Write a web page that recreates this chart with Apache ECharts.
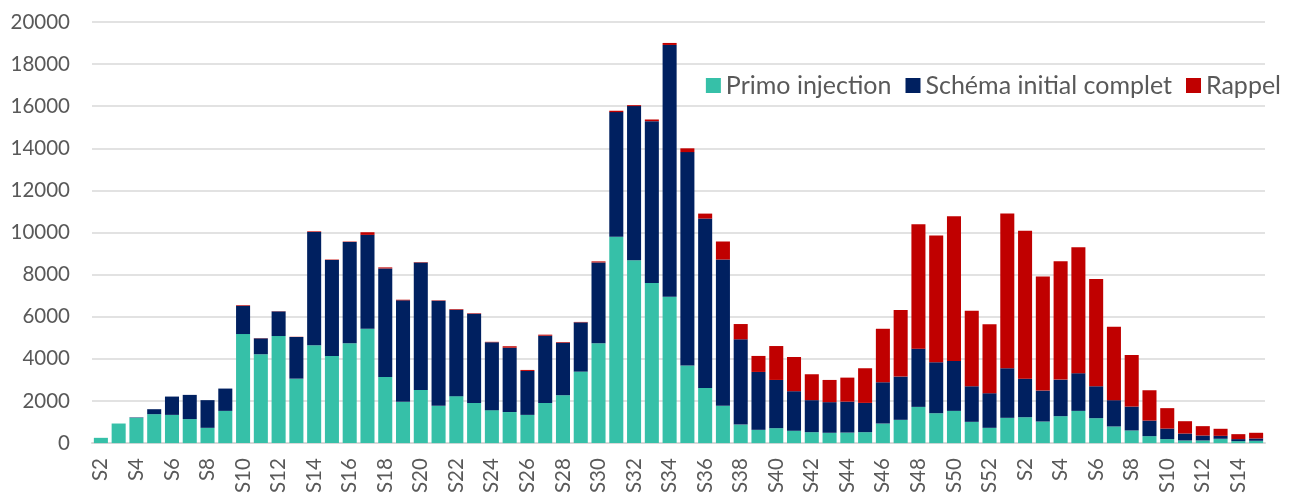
<!DOCTYPE html>
<html>
<head>
<meta charset="utf-8">
<script src="https://cdn.jsdelivr.net/npm/echarts@6/dist/echarts.min.js"></script>
<style>
  html, body { margin: 0; padding: 0; background: #fff; }
  #chart { width: 1293px; height: 496px; }
</style>
</head>
<body>
<div id="chart"></div>
<script>
// weeks: 2021 S2..S52 then 2022 S1..S15
var weeks = [
    'S2', 'S3', 'S4', 'S5', 'S6', 'S7', 'S8', 'S9', 'S10', 'S11', 'S12', 'S13', 'S14', 'S15', 'S16', 'S17',
    'S18', 'S19', 'S20', 'S21', 'S22', 'S23', 'S24', 'S25', 'S26', 'S27', 'S28', 'S29', 'S30', 'S31', 'S32',
    'S33', 'S34', 'S35', 'S36', 'S37', 'S38', 'S39', 'S40', 'S41', 'S42', 'S43', 'S44', 'S45', 'S46', 'S47',
    'S48', 'S49', 'S50', 'S51', 'S52',
    'S1', 'S2', 'S3', 'S4', 'S5', 'S6', 'S7', 'S8', 'S9', 'S10', 'S11', 'S12', 'S13', 'S14', 'S15'
];

var primo = [
    250, 930, 1200, 1375, 1340, 1140, 725, 1530, 5180, 4220, 5085, 3060, 4645, 4140, 4740, 5430,
    3140, 1960, 2525, 1770, 2230, 1910, 1565, 1475, 1340, 1910, 2275, 3395, 4740, 9795, 8690,
    7600, 6950, 3680, 2620, 1770, 880, 630, 710, 585, 520, 490, 500, 520, 930, 1105,
    1720, 1420, 1530, 1010, 725,
    1200, 1230, 1025, 1280, 1530, 1185, 790, 600, 330, 190, 125, 125, 205, 95, 110
];

var complet = [
    0, 0, 20, 235, 870, 1150, 1315, 1060, 1340, 755, 1170, 1980, 5385, 4560, 4815, 4460,
    5155, 4820, 6055, 4990, 4105, 4235, 3225, 3055, 2087, 3190, 2495, 2340, 3840, 5925, 7315,
    7690, 11960, 10140, 8045, 6950, 4050, 2750, 2290, 1880, 1520, 1455, 1470, 1390, 1960, 2055,
    2765, 2420, 2370, 1690, 1645,
    2355, 1830, 1470, 1735, 1790, 1515, 1250, 1135, 740, 500, 330, 235, 140, 95, 110
];

var rappel = [
    0, 0, 0, 0, 0, 0, 0, 0, 30, 10, 10, 10, 30, 20, 20, 125,
    50, 30, 20, 20, 30, 25, 20, 70, 48, 50, 30, 20, 50, 65, 45,
    80, 95, 180, 235, 855, 725, 760, 1610, 1625, 1230, 1055, 1140, 1645, 2540, 3160,
    5910, 6020, 6875, 3585, 3270,
    7345, 7020, 5420, 5625, 5985, 5090, 3490, 2450, 1440, 970, 585, 445, 335, 235, 270
];

var yTicks = [0, 2000, 4000, 6000, 8000, 10000, 12000, 14000, 16000, 18000, 20000];

var chart = echarts.init(document.getElementById('chart'));

var textColor = '#595959';
var font = 'Lato, "Open Sans", sans-serif';

var option = {
    backgroundColor: '#fff',
    animation: false,
    textStyle: {fontFamily: font},
    grid: {left: 92, right: 28, top: 22, bottom: 52, containLabel: false},
    legend: {
        right: 12,
        top: 71,
        padding: [2, 0, 2, 8],
        itemWidth: 15,
        itemHeight: 15,
        itemGap: 14,
        icon: 'rect',
        backgroundColor: '#fff',
        textStyle: {fontSize: 25, color: textColor, fontFamily: font, padding: [0, 0, 0, 0]},
        data: ['Primo injection', 'Schéma initial complet', 'Rappel']
    },
    xAxis: {
        type: 'category',
        data: weeks,
        axisLine: {lineStyle: {color: '#d9d9d9', width: 2}},
        axisTick: {show: false},
        axisLabel: {
            interval: 1,
            rotate: 90,
            color: textColor,
            fontSize: 20.5,
            fontFamily: font,
            margin: 15
        }
    },
    yAxis: {
        type: 'value',
        min: yTicks[0],
        max: yTicks[yTicks.length - 1],
        interval: 2000,
        axisLine: {show: false},
        axisTick: {show: false},
        axisLabel: {
            color: textColor,
            fontSize: 20.5,
            fontFamily: font,
            margin: 22,
            formatter: function (v) { return String(v); }
        },
        splitLine: {lineStyle: {color: '#d9d9d9', width: 1.5}}
    },
    series: [
        {
            name: 'Primo injection',
            type: 'bar',
            stack: 'total',
            barCategoryGap: '21%',
            itemStyle: {color: '#36c0a8'},
            data: primo
        },
        {
            name: 'Schéma initial complet',
            type: 'bar',
            stack: 'total',
            itemStyle: {color: '#002060'},
            data: complet
        },
        {
            name: 'Rappel',
            type: 'bar',
            stack: 'total',
            itemStyle: {color: '#c00000'},
            data: rappel
        }
    ]
};

chart.setOption(option);
</script>
</body>
</html>
